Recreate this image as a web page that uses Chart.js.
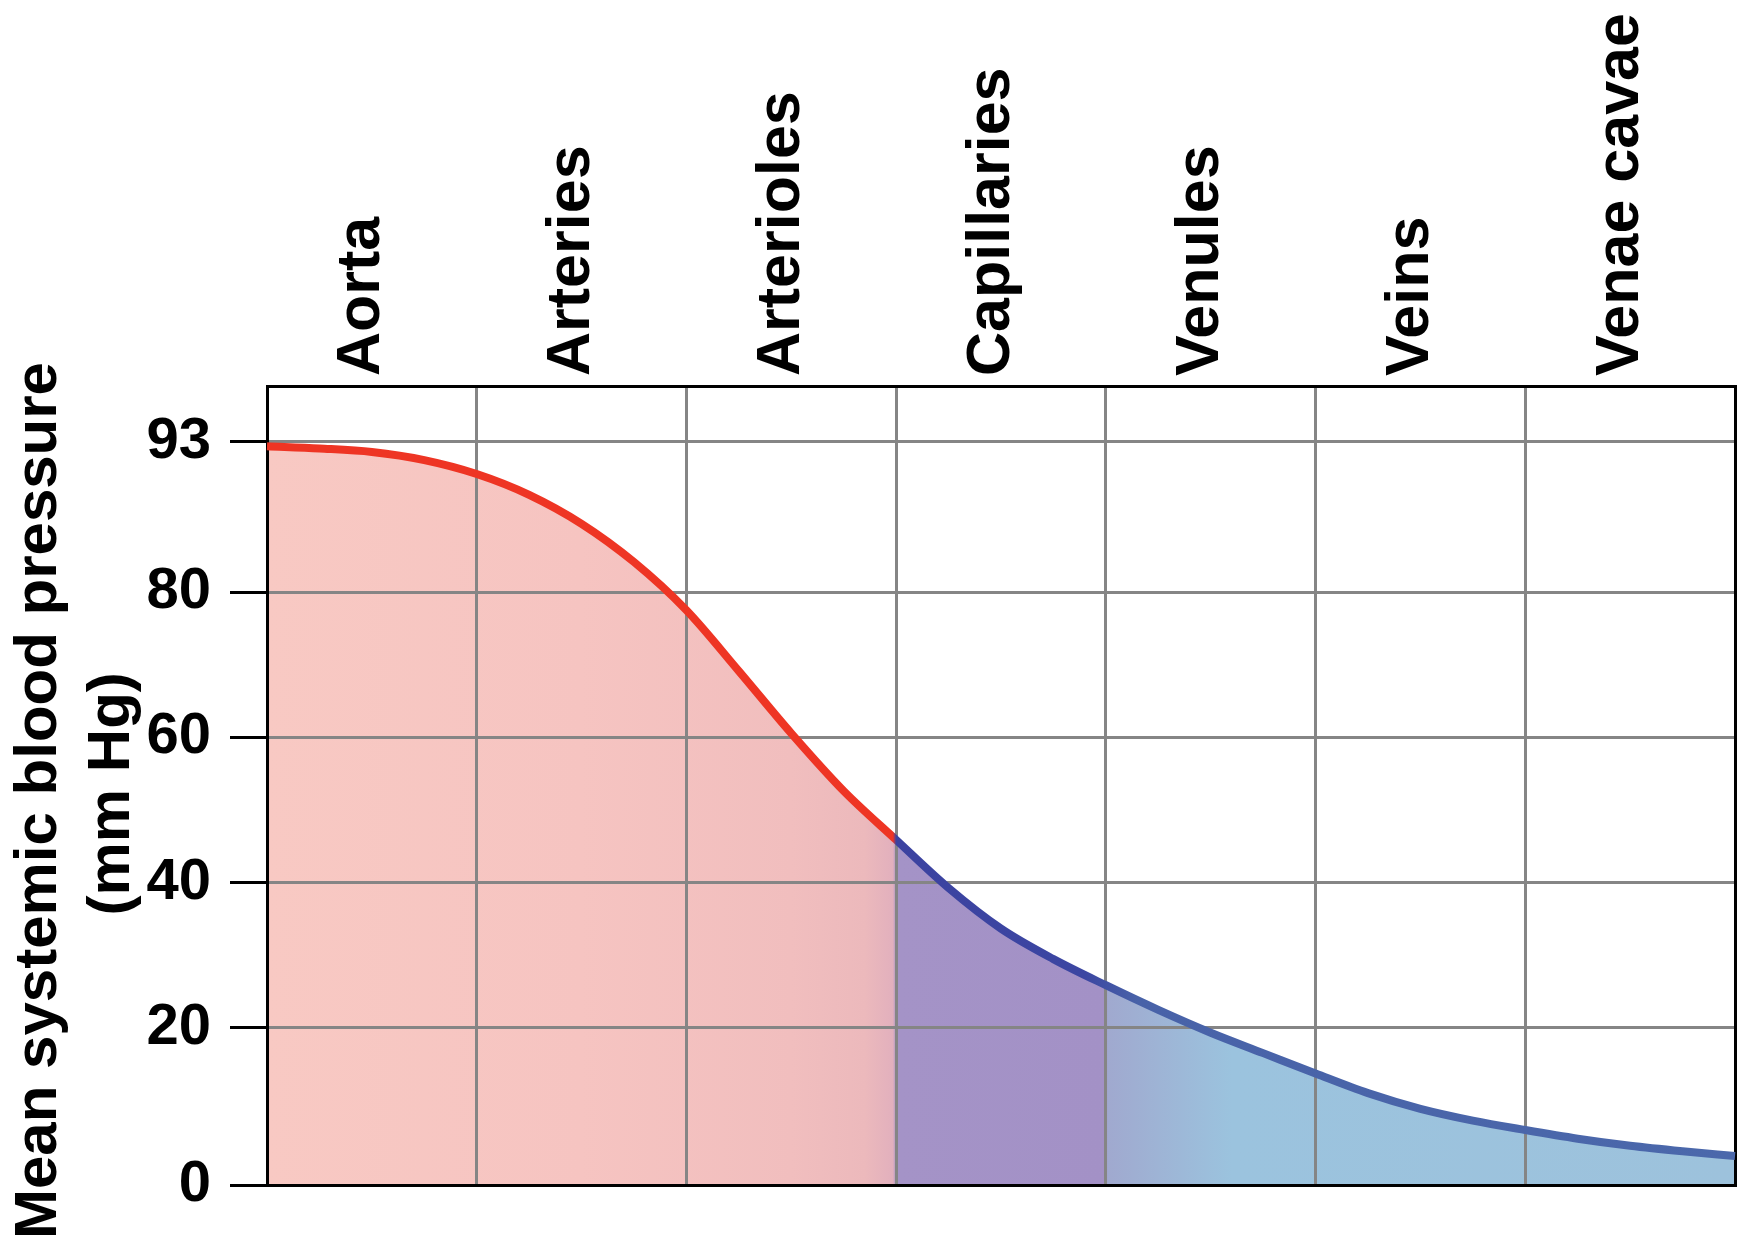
<!DOCTYPE html>
<html>
<head>
<meta charset="utf-8">
<title>Mean systemic blood pressure</title>
<script src="https://cdn.jsdelivr.net/npm/chart.js@4.4.1/dist/chart.umd.min.js"></script>
<style>
    body { margin: 0; background: #ffffff; }
    #bpChart { display: block; }
</style>
</head>
<body>
<canvas id="bpChart" width="1745" height="1246"></canvas>
<script>
// vessel categories along the top
const categories = ['Aorta', 'Arteries', 'Arterioles', 'Capillaries', 'Venules', 'Veins', 'Venae cavae'];

// position along the circulation (in vessel-column units) and pressure
const stagePos = [0, 0.25, 0.5, 0.75, 1, 1.25, 1.5, 1.75, 2, 2.25, 2.5, 2.75, 3, 3.25, 3.5,
    3.75, 4, 4.25, 4.5, 4.75, 5, 5.25, 5.5, 5.75, 6, 6.25, 6.5, 6.75, 7];
const pressure = [92.6, 92.4, 92.1, 91.4, 90.2, 88.4, 85.9, 82.6, 77.5, 69.1, 60.5, 52.6, 45.9, 39.3, 33.7,
    29.5, 25.9, 22.5, 19.4, 16.8, 14.2, 11.7, 9.7, 8.2, 7.0, 5.9, 5.0, 4.3, 3.7];

// y tick labels (mm Hg)
const yTicks = [0, 20, 40, 60, 80, 93];

// the printed axis is not evenly scaled: where each value sits, as a share of the plot height
const axisValues = [0, 20, 40, 60, 80, 93, 97.8];
const axisShares = [0, 0.1965, 0.378, 0.5607, 0.742, 0.9305, 1];

function interp(v, xs, ys) {
    if (v <= xs[0]) return ys[0];
    for (let i = 1; i < xs.length; i++) {
        if (v <= xs[i]) {
            const t = (v - xs[i - 1]) / (xs[i] - xs[i - 1]);
            return ys[i - 1] + t * (ys[i] - ys[i - 1]);
        }
    }
    const n = xs.length - 1;
    return ys[n] + (v - xs[n]) * (ys[n] - ys[n - 1]) / (xs[n] - xs[n - 1]);
}

// linear scale with the figure's piecewise spacing
class StretchScale extends Chart.LinearScale {
    getPixelForValue(value) {
        return this.getPixelForDecimal(interp(value, axisValues, axisShares));
    }
    getValueForPixel(pixel) {
        return interp(this.getDecimalForPixel(pixel), axisShares, axisValues);
    }
}
StretchScale.id = 'stretch';
StretchScale.defaults = Chart.LinearScale.defaults;
Chart.register(StretchScale);

// colour bands along x (column units)
const lineStops = [[0, '#ee3524'], [2.985, '#ee3524'], [3.0, '#3b42a0'], [3.9, '#3c46a2'], [4.15, '#4862a8'], [7, '#4b68ab']];
const fillStops = [[0, '#f8c9c3'], [1.5, '#f6c4c1'], [2.5, '#f1bebe'], [2.85, '#ecb9bc'], [2.985, '#e2b0bd'],
    [3.0, '#a493c7'], [3.995, '#a391c6'], [4.01, '#a0a9cf'], [4.6, '#9bc3de'], [7, '#9dc2dc']];

function xGradient(context, stops, fallback) {
    const chart = context.chart;
    const area = chart.chartArea;
    if (!area) return fallback;
    const xs = chart.scales.x;
    const g = chart.ctx.createLinearGradient(area.left, 0, area.right, 0);
    stops.forEach(function (s) {
        const f = (xs.getPixelForValue(s[0]) - area.left) / (area.right - area.left);
        g.addColorStop(Math.min(1, Math.max(0, f)), s[1]);
    });
    return g;
}

const FONT = "'Liberation Sans', Arial, Helvetica, sans-serif";
const GRID = '#858585';

let ctx = document.getElementById('bpChart').getContext('2d');

window.bpChart = new Chart(ctx, {
    type: 'line',
    data: {
        datasets: [{
            data: stagePos.map((x, i) => ({ x: x, y: pressure[i] })),
            xAxisID: 'x',
            yAxisID: 'y',
            borderColor: (c) => xGradient(c, lineStops, '#ee3524'),
            backgroundColor: (c) => xGradient(c, fillStops, '#f8c9c3'),
            borderWidth: 8,
            pointRadius: 0,
            cubicInterpolationMode: 'monotone',
            fill: 'origin',
            clip: 6
        }]
    },
    options: {
        responsive: false,
        animation: false,
        layout: { padding: 0 },
        plugins: {
            legend: { display: false },
            tooltip: { enabled: false },
            filler: { drawTime: 'beforeDraw' }
        },
        scales: {
            x: {
                type: 'linear',
                position: 'bottom',
                min: 0,
                max: 7,
                ticks: { display: false, stepSize: 1 },
                grid: { color: GRID, lineWidth: 3, drawTicks: false },
                border: { color: '#000', width: 3 },
                afterFit: (axis) => { axis.height = 61; }
            },
            xTop: {
                type: 'category',
                position: 'top',
                labels: categories,
                offset: true,
                grid: { display: false, drawTicks: false },
                border: { color: '#000', width: 3 },
                ticks: {
                    color: '#000',
                    font: { family: FONT, size: 61, weight: 'bold' },
                    minRotation: 90,
                    maxRotation: 90,
                    autoSkip: false,
                    labelOffset: 64,
                    padding: 10
                },
                afterFit: (axis) => { axis.height = 386; }
            },
            y: {
                type: 'stretch',
                position: 'left',
                min: 0,
                max: 97.8,
                afterBuildTicks: (axis) => { axis.ticks = yTicks.map(v => ({ value: v })); },
                ticks: {
                    color: '#000',
                    font: { family: FONT, size: 58, weight: 'bold' },
                    padding: 19,
                    callback: (v) => String(v)
                },
                grid: { color: GRID, lineWidth: 3, tickColor: '#000', tickWidth: 3, tickLength: 37 },
                border: { color: '#000', width: 3 },
                title: {
                    display: true,
                    text: ['Mean systemic blood pressure\u2002', '(mm Hg) '],
                    color: '#000',
                    font: { family: FONT, size: 60, weight: 'bold', lineHeight: 1.22 },
                    padding: { top: 3, bottom: 0 }
                },
                afterFit: (axis) => { axis.width = 267; }
            },
            yR: {
                type: 'linear',
                position: 'right',
                min: 0,
                max: 1,
                ticks: { display: false },
                grid: { display: false, drawTicks: false },
                border: { color: '#000', width: 3 },
                afterFit: (axis) => { axis.width = 10; }
            }
        }
    }
});
</script>
</body>
</html>
